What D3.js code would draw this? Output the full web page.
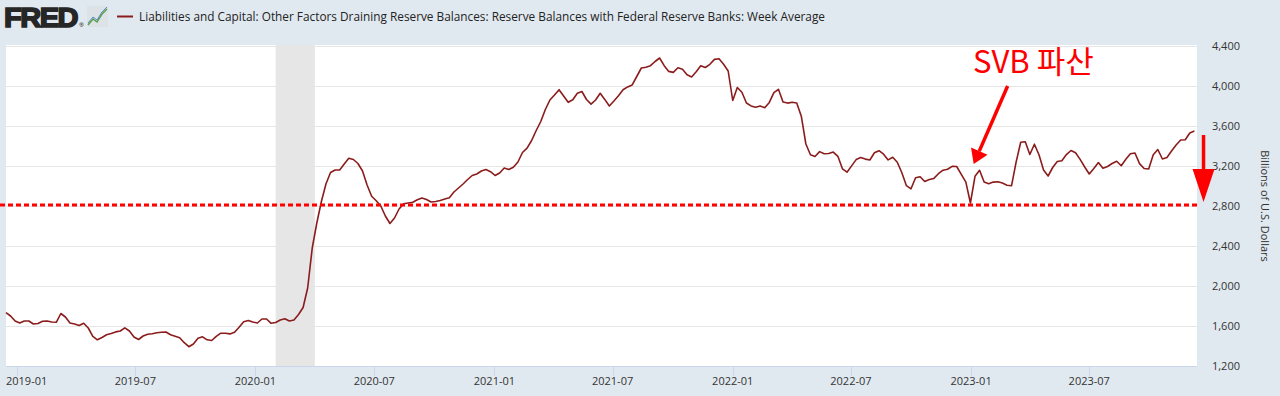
<!DOCTYPE html>
<html>
<head>
<meta charset="utf-8">
<script src="https://cdn.jsdelivr.net/npm/d3@7"></script>
<style>
  body { margin: 0; background: #e1e9f0; }
  svg { display: block; }
  text { font-family: "Open Sans", sans-serif; }
</style>
</head>
<body>
<svg id="chart" width="1280" height="396"></svg>
<script>
// weekly averages, billions of U.S. dollars, first week ending 2018-12-15
var firstWeek = "2018-12-15";
var reserves = [
  1733,1700,1650,1630,1650,1650,1620,1625,1648,1650,
  1640,1637,1725,1690,1630,1620,1605,1628,1580,1497,
  1462,1485,1512,1525,1541,1550,1582,1550,1490,1465,
  1500,1518,1522,1533,1538,1540,1513,1498,1483,1433,
  1393,1420,1478,1492,1462,1455,1497,1528,1528,1521,
  1537,1587,1643,1656,1640,1630,1670,1670,1627,1635,
  1660,1672,1650,1660,1715,1785,1980,2380,2630,2845,
  3020,3135,3160,3160,3220,3277,3265,3225,3150,3010,
  2898,2852,2800,2700,2625,2680,2770,2822,2830,2838,
  2863,2880,2865,2840,2845,2855,2870,2883,2940,2980,
  3020,3065,3105,3120,3150,3165,3143,3105,3130,3180,
  3165,3187,3240,3335,3378,3455,3555,3645,3765,3860,
  3910,3963,3900,3837,3862,3928,3945,3865,3819,3860,
  3927,3866,3800,3850,3903,3962,3991,4011,4095,4180,
  4188,4203,4245,4280,4203,4146,4136,4182,4167,4112,
  4090,4143,4203,4185,4217,4266,4272,4217,4150,3855,
  3985,3937,3830,3801,3787,3800,3782,3836,3934,3967,
  3841,3829,3837,3830,3698,3420,3313,3295,3344,3322,
  3325,3339,3297,3172,3138,3201,3264,3284,3269,3260,
  3332,3353,3318,3261,3287,3237,3132,3003,2972,3082,
  3093,3045,3064,3076,3123,3158,3167,3196,3195,3116,
  3039,2830,3097,3157,3040,3022,3039,3043,3029,3008,
  3003,3240,3437,3443,3315,3418,3312,3160,3100,3185,
  3245,3253,3314,3355,3332,3266,3190,3120,3175,3234,
  3178,3195,3225,3248,3203,3267,3322,3330,3224,3175,
  3170,3312,3365,3270,3285,3350,3410,3460,3462,3530,
  3550
];
var yTicks = [1200, 1600, 2000, 2400, 2800, 3200, 3600, 4000, 4400];
var xTickLabels = ["2019-01", "2019-07", "2020-01", "2020-07", "2021-01",
                   "2021-07", "2022-01", "2022-07", "2023-01", "2023-07"];
var recession = ["2020-02-01", "2020-04-01"];
var baseline = 2810;
var title = "Liabilities and Capital: Other Factors Draining Reserve Balances: Reserve Balances with Federal Reserve Banks: Week Average";

var parse = d3.timeParse("%Y-%m-%d");
var start = parse(firstWeek);
var data = reserves.map(function (v, i) {
  return { date: d3.timeDay.offset(start, 7 * i), value: v };
});

var plotLeft = 6, plotRight = 1197, plotTop = 45, plotBottom = 366;
var svg = d3.select("#chart");

var x = d3.scaleTime()
  .domain([start, parse("2023-12-13")])
  .range([plotLeft, plotRight]);
var y = d3.scaleLinear()
  .domain([1200, 4400])
  .range([plotBottom, plotTop + 1]);

// plot background
svg.append("rect")
  .attr("x", plotLeft).attr("y", plotTop)
  .attr("width", plotRight - plotLeft).attr("height", plotBottom - plotTop)
  .attr("fill", "#fff");

// recession shading
svg.append("rect")
  .attr("x", x(parse(recession[0])))
  .attr("y", plotTop)
  .attr("width", x(parse(recession[1])) - x(parse(recession[0])))
  .attr("height", plotBottom - plotTop)
  .attr("fill", "#e6e6e6");

// grid lines
svg.selectAll(".grid")
  .data(yTicks.slice(1))
  .enter().append("line")
  .attr("class", "grid")
  .attr("x1", plotLeft).attr("x2", plotRight)
  .attr("y1", function (d) { return Math.round(y(d)) + 0.5; })
  .attr("y2", function (d) { return Math.round(y(d)) + 0.5; })
  .attr("stroke", "#e6e6e6");

// x axis
svg.append("line")
  .attr("x1", plotLeft).attr("x2", plotRight)
  .attr("y1", plotBottom + 0.5).attr("y2", plotBottom + 0.5)
  .attr("stroke", "#ccd6eb");

var monthParse = d3.timeParse("%Y-%m");
svg.selectAll(".xtick")
  .data(xTickLabels)
  .enter().append("line")
  .attr("class", "xtick")
  .attr("x1", function (d) { return Math.round(x(monthParse(d))) + 0.5; })
  .attr("x2", function (d) { return Math.round(x(monthParse(d))) + 0.5; })
  .attr("y1", plotBottom).attr("y2", plotBottom + 10)
  .attr("stroke", "#ccd6eb");

svg.selectAll(".xlabel")
  .data(xTickLabels)
  .enter().append("text")
  .attr("class", "xlabel")
  .attr("x", function (d, i) { return i === 0 ? plotLeft : x(monthParse(d)); })
  .attr("y", 385)
  .attr("text-anchor", function (d, i) { return i === 0 ? "start" : "middle"; })
  .attr("font-size", 11)
  .attr("fill", "#333")
  .text(function (d) { return d; });

// y axis labels
svg.selectAll(".ylabel")
  .data(yTicks)
  .enter().append("text")
  .attr("class", "ylabel")
  .attr("x", 1240)
  .attr("y", function (d) { return y(d) + 4; })
  .attr("text-anchor", "end")
  .attr("font-size", 11)
  .attr("fill", "#333")
  .text(d3.format(","));

svg.append("text")
  .attr("transform", "translate(1261," + y(2800) + ") rotate(90)")
  .attr("text-anchor", "middle")
  .attr("font-size", 11)
  .attr("fill", "#333")
  .text("Billions of U.S. Dollars");

// series line
var line = d3.line()
  .x(function (d) { return x(d.date); })
  .y(function (d) { return y(d.value); });

svg.append("path")
  .datum(data)
  .attr("d", line)
  .attr("fill", "none")
  .attr("stroke", "#8b1c1c")
  .attr("stroke-width", 1.6)
  .attr("stroke-linejoin", "round");

// red dashed reference
svg.append("line")
  .attr("x1", 0).attr("x2", plotRight)
  .attr("y1", y(baseline)).attr("y2", y(baseline))
  .attr("stroke", "#ff0000")
  .attr("stroke-width", 3)
  .attr("stroke-dasharray", "5,3");

// right-side down arrow
var ax = x(parse("2023-12-23"));
svg.append("line")
  .attr("x1", ax).attr("x2", ax)
  .attr("y1", y(3510)).attr("y2", y(2970))
  .attr("stroke", "#ff0000").attr("stroke-width", 3.5);
svg.append("path")
  .attr("d", "M" + (ax - 11) + "," + y(3170) + "L" + (ax + 11) + "," + y(3170) +
             "L" + ax + "," + y(2840) + "Z")
  .attr("fill", "#ff0000");

// SVB annotation
var tail = [x(parse("2023-02-26")), y(4000)];
var tip = [x(parse("2023-01-05")), y(3220)];
var dx = tip[0] - tail[0], dy = tip[1] - tail[1];
var len = Math.sqrt(dx * dx + dy * dy);
var ux = dx / len, uy = dy / len;
var headLen = 14, headW = 9;
var bx = tip[0] - ux * headLen, by = tip[1] - uy * headLen;
svg.append("line")
  .attr("x1", tail[0]).attr("y1", tail[1])
  .attr("x2", bx).attr("y2", by)
  .attr("stroke", "#ff0000").attr("stroke-width", 3.5);
svg.append("path")
  .attr("d", "M" + tip[0] + "," + tip[1] +
             "L" + (bx - uy * headW) + "," + (by + ux * headW) +
             "L" + (bx + uy * headW) + "," + (by - ux * headW) + "Z")
  .attr("fill", "#ff0000");

svg.append("text")
  .attr("x", x(parse("2023-01-04")))
  .attr("y", y(4130))
  .style("font-family", "'Noto Sans CJK KR', 'Noto Sans', sans-serif")
  .attr("font-size", 31)
  .attr("fill", "#ff0000")
  .text("SVB 파산");

// header: FRED logo, icon, legend
svg.append("text")
  .attr("x", 4).attr("y", 27)
  .style("font-family", "'Liberation Sans', Arial, sans-serif")
  .style("font-weight", "700")
  .attr("font-size", 28)
  .attr("letter-spacing", -1.5)
  .attr("fill", "#262626")
  .attr("stroke", "#262626")
  .attr("stroke-width", 1.6)
  .attr("textLength", 73)
  .attr("lengthAdjust", "spacingAndGlyphs")
  .text("FRED");
svg.append("text")
  .attr("x", 79).attr("y", 27)
  .attr("font-size", 6)
  .attr("fill", "#262626")
  .text("®");

var icon = svg.append("g").attr("transform", "translate(87,6)");
icon.append("rect").attr("width", 21).attr("height", 21).attr("fill", "#dde2e6");
icon.append("path").attr("d", "M1,19 L6,13 L10,16 L15,8 L20,3")
  .attr("fill", "none").attr("stroke", "#5aa04a").attr("stroke-width", 1.5);
icon.append("path").attr("d", "M1,17 L6,11 L10,14 L15,6 L20,1")
  .attr("fill", "none").attr("stroke", "#5b8ac6").attr("stroke-width", 1);

svg.append("line")
  .attr("x1", 117).attr("x2", 133)
  .attr("y1", 16.5).attr("y2", 16.5)
  .attr("stroke", "#8b1c1c").attr("stroke-width", 2);
svg.append("text")
  .attr("x", 139).attr("y", 21)
  .attr("font-size", 12)
  .attr("fill", "#222")
  .attr("textLength", 686)
  .attr("lengthAdjust", "spacingAndGlyphs")
  .text(title);
</script>
</body>
</html>
